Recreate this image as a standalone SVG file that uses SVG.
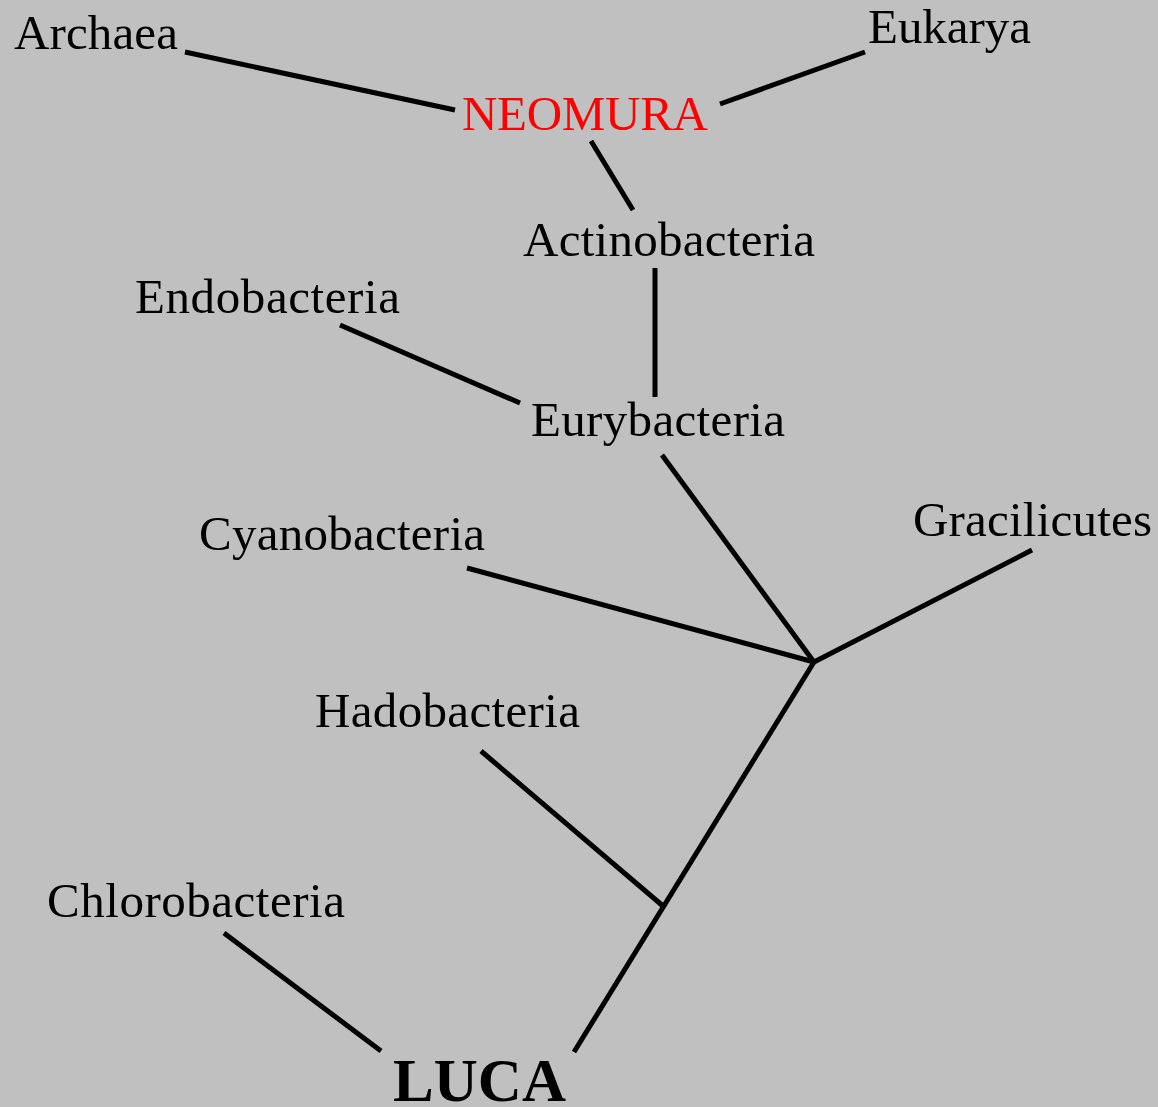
<svg xmlns="http://www.w3.org/2000/svg" width="1158" height="1107" viewBox="0 0 1158 1107">
<style>
.t{font-family:"Liberation Serif","Times New Roman",serif;font-size:49px;fill:#000}
.red{fill:#ff0000}
.b{font-weight:bold;font-size:61px}
.e line{stroke:#000;stroke-width:5;stroke-linecap:butt}
</style>
<rect width="1158" height="1107" fill="#c0c0c0"/>
<g class="e" id="connectors">
<line x1="185" y1="52" x2="455" y2="110"/>
<line x1="865" y1="52" x2="720" y2="104"/>
<line x1="591" y1="141" x2="633" y2="210"/>
<line x1="655" y1="268" x2="655" y2="397"/>
<line x1="340" y1="325" x2="520" y2="403"/>
<line x1="662" y1="455" x2="814" y2="662"/>
<line x1="467" y1="568" x2="814" y2="662"/>
<line x1="1032" y1="550" x2="814" y2="662"/>
<line x1="814" y1="662" x2="574" y2="1052"/>
<line x1="481" y1="751" x2="663" y2="906"/>
<line x1="224" y1="933" x2="381" y2="1051"/>
</g>
<g id="archaea"><text class="t" x="14" y="49" textLength="164">Archaea</text></g>
<g id="eukarya"><text class="t" x="868" y="43" textLength="163">Eukarya</text></g>
<g id="neomura"><text class="t red" x="462" y="130" textLength="246">NEOMURA</text></g>
<g id="actinobacteria"><text class="t" x="523" y="256" textLength="292">Actinobacteria</text></g>
<g id="endobacteria"><text class="t" x="135" y="313" textLength="265">Endobacteria</text></g>
<g id="eurybacteria"><text class="t" x="531" y="436" textLength="254">Eurybacteria</text></g>
<g id="cyanobacteria"><text class="t" x="199" y="550" textLength="286">Cyanobacteria</text></g>
<g id="gracilicutes"><text class="t" x="913" y="536" textLength="239">Gracilicutes</text></g>
<g id="hadobacteria"><text class="t" x="315" y="727" textLength="265">Hadobacteria</text></g>
<g id="chlorobacteria"><text class="t" x="47" y="917" textLength="298">Chlorobacteria</text></g>
<g id="luca"><text class="t b" x="393" y="1101" textLength="173">LUCA</text></g>
</svg>
